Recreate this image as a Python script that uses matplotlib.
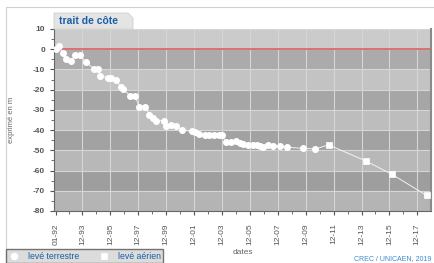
import matplotlib
matplotlib.use("Agg")
import matplotlib.pyplot as plt
from matplotlib.patches import Rectangle, Polygon
import numpy as np

plt.rcParams['font.family'] = ['Liberation Sans', 'DejaVu Sans']

# data (decimal years, metres)
terr_x = [1992.02, 1992.22, 1992.52, 1992.72, 1993.10, 1993.38, 1993.76, 1994.15, 1994.77, 1995.01,
          1995.18, 1995.73, 1995.96, 1996.30, 1996.68, 1996.80, 1997.33, 1997.68, 1997.99, 1998.39,
          1998.72, 1999.01, 1999.18, 1999.76, 1999.94, 2000.26, 2000.62, 2001.03, 2001.75, 2001.99,
          2002.29, 2002.70, 2003.01, 2003.35, 2003.71, 2003.90, 2004.21, 2004.53, 2004.89, 2005.18,
          2005.45, 2005.81, 2006.12, 2006.41, 2006.65, 2006.88, 2007.24, 2007.60, 2008.08, 2008.60,
          2009.71, 2010.62]
terr_y = [0.0, 1.5, -2.0, -4.8, -5.9, -2.8, -2.8, -6.4, -9.7, -9.7,
          -13.0, -14.2, -14.2, -15.2, -18.5, -19.6, -22.9, -22.9, -28.4, -28.6,
          -32.3, -34.0, -35.3, -35.3, -37.8, -37.4, -38.1, -39.9, -40.6, -41.1,
          -41.9, -42.2, -42.4, -42.4, -42.4, -42.4, -46.0, -46.0, -45.6, -46.5,
          -46.8, -47.2, -47.2, -47.2, -47.7, -48.2, -47.3, -48.0, -48.0, -48.5,
          -49.0, -49.3]
aer_x = [2011.56, 2014.24, 2016.09, 2018.58]
aer_y = [-47.3, -55.3, -61.8, -72.3]

xtick_pos = [1992.0, 1993.92, 1995.92, 1997.92, 1999.92, 2001.92, 2003.92, 2005.92,
             2007.92, 2009.92, 2011.92, 2013.92, 2015.92, 2017.92]
xtick_labels = ['01-92', '12-93', '12-95', '12-97', '12-99', '12-01', '12-03', '12-05',
                '12-07', '12-09', '12-11', '12-13', '12-15', '12-17']
ytick_pos = [10, 0, -10, -20, -30, -40, -50, -60, -70, -80]

W, H = 434, 263
fig = plt.figure(figsize=(W / 100, H / 100), dpi=100)
fig.patch.set_facecolor('white')

def fx(px):
    return px / W

def fy(py):
    return 1 - py / H

# outer frame
fig.patches.append(Rectangle((fx(6), fy(300)), fx(600), fy(7) - fy(300), transform=fig.transFigure,
                             fill=False, edgecolor='#d0d0d0', linewidth=0.8, zorder=0))

ax = fig.add_axes([fx(54), fy(211), fx(431) - fx(54), fy(29) - fy(211)])
ax.set_xlim(1991.88, 2018.90)
ax.set_ylim(-80, 10)

# background bands
light = ['#cbcbcb', '#c3c3c3', '#bdbdbd', '#b8b8b8', '#b4b4b4']
dark = ['#ababab', '#a6a6a6', '#a2a2a2', '#9e9e9e']
bands = [10, 0, -10, -20, -30, -40, -50, -60, -70, -80]
for i in range(len(bands) - 1):
    c = light[i // 2] if i % 2 == 0 else dark[i // 2]
    ax.axhspan(bands[i + 1], bands[i], color=c, zorder=0, linewidth=0)

for yv in ytick_pos:
    ax.axhline(yv, color='#d6d6d6', linewidth=0.8, zorder=1)
for xv in xtick_pos[1:]:
    ax.axvline(xv, color='#d6d6d6', linewidth=0.8, zorder=1)
ax.axhline(0, color='#e06060', linewidth=1.2, zorder=2)

all_x = terr_x + aer_x
all_y = terr_y + aer_y
ax.plot(all_x, all_y, color='#f2f2f2', linewidth=0.7, zorder=3)
h1, = ax.plot(terr_x, terr_y, linestyle='none', marker='o', markersize=4.0,
              markerfacecolor='white', markeredgecolor='white', zorder=4)
h2, = ax.plot(aer_x, aer_y, linestyle='none', marker='s', markersize=3.8,
              markerfacecolor='white', markeredgecolor='white', markeredgewidth=0.5, zorder=4)

ax.set_xticks(xtick_pos)
ax.set_xticklabels(xtick_labels, rotation=90)
ax.set_xticks(np.arange(1992.92, 2018.5, 1.0), minor=True)
ax.set_yticks(ytick_pos)
ax.set_yticklabels([str(v) for v in ytick_pos])
ax.set_yticks(np.arange(-75, 10, 10), minor=True)
ax.tick_params(axis='both', which='major', labelsize=6, colors='#555555', length=3, width=0.8)
ax.tick_params(axis='both', which='minor', colors='#555555', length=2, width=0.6)
ax.tick_params(axis='x', pad=6)
for lab in ax.get_yticklabels():
    lab.set_fontweight('bold')

ax.spines['top'].set_visible(False)
ax.spines['left'].set_color('#666666')
ax.spines['bottom'].set_color('#666666')
ax.spines['right'].set_color('#8a8a8a')
ax.spines['right'].set_linewidth(1.5)

fig.text(fx(12), fy(120), 'exprimé en m', rotation=90, fontsize=5.5, color='#666666',
         ha='center', va='center')
fig.text(fx(243), fy(252), 'dates', fontsize=6, color='#666666', ha='center', va='center')
fig.text(fx(431), fy(259), 'CREC / UNICAEN, 2019', fontsize=5, color='#3a8ad0',
         ha='right', va='center')

# title tab
tab = Polygon([[fx(54), fy(29)], [fx(54), fy(13)], [fx(128), fy(13)], [fx(133), fy(18)], [fx(133), fy(29)]],
              closed=True, transform=fig.transFigure, facecolor='#e4e4e4', edgecolor='#d0d0d0',
              linewidth=0.6)
fig.patches.append(tab)
fig.text(fx(59), fy(21.5), 'trait de côte', fontsize=7.5, fontweight='bold', color='#1a5ea8',
         ha='left', va='center')

leg = fig.legend([h1, h2], ['levé terrestre', 'levé aérien'], ncol=2, loc='upper left',
                 bbox_to_anchor=(fx(6), fy(249)), fontsize=6.3, frameon=True, fancybox=False,
                 borderaxespad=0, borderpad=0.3, handlelength=1.2, columnspacing=2.2,
                 handletextpad=1.0, markerscale=1.1)
leg.get_frame().set_facecolor('#d4d4d4')
leg.get_frame().set_edgecolor('#555555')
leg.get_frame().set_linewidth(1.0)
for t in leg.get_texts():
    t.set_color('#1a5ea8')

fig.savefig('out.png', dpi=100)
